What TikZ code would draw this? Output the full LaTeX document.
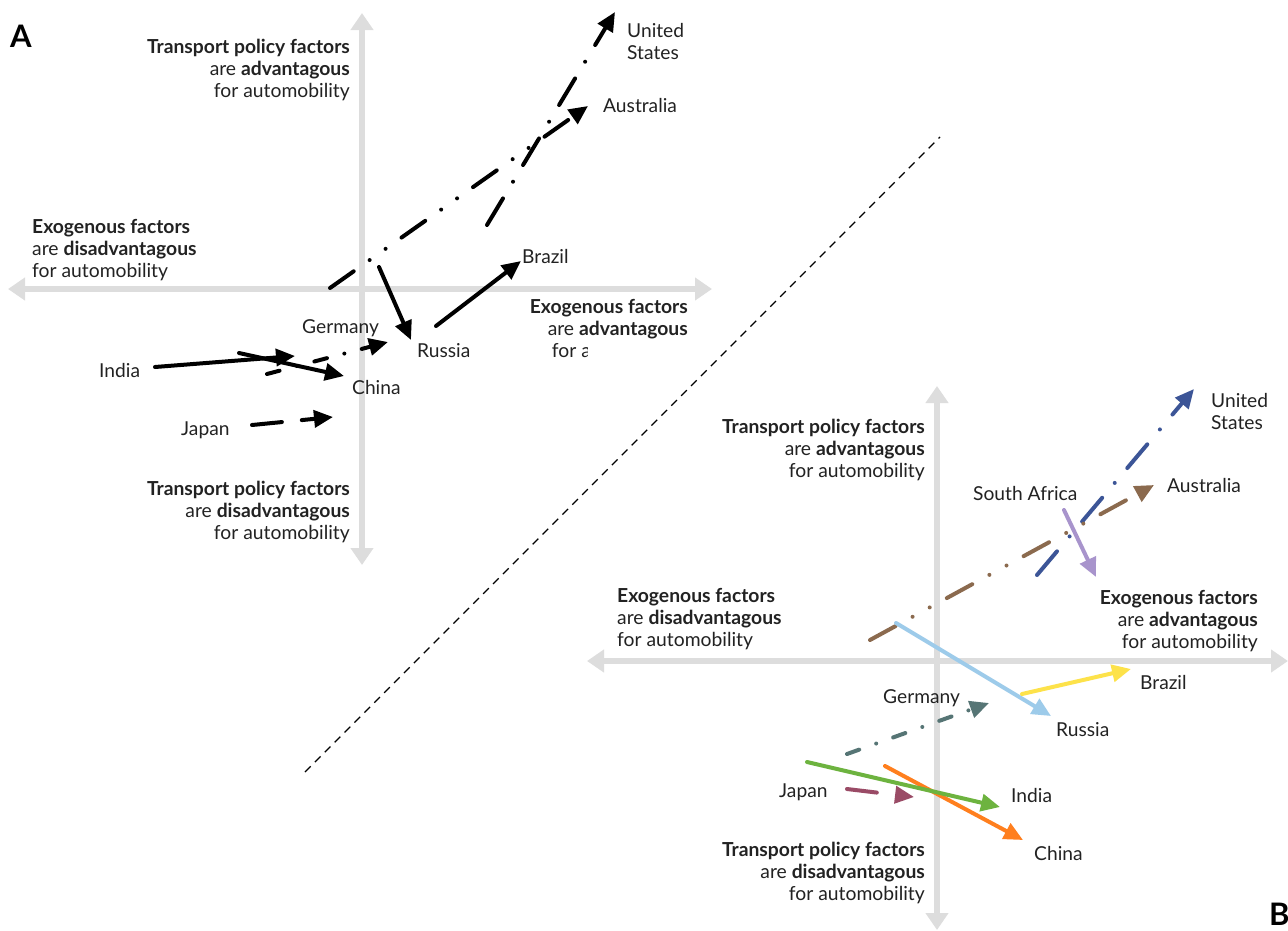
\documentclass[tikz,border=0pt]{standalone}
\usepackage{fontspec}
\setmainfont{Lato}
\usetikzlibrary{arrows.meta, positioning}
\definecolor{axisgray}{HTML}{DDDDDD}
\definecolor{txt}{HTML}{222222}
\definecolor{cus}{HTML}{3C5597}
\definecolor{caus}{HTML}{8B6A4E}
\definecolor{csaf}{HTML}{A894CC}
\definecolor{crus}{HTML}{9DCBEA}
\definecolor{cbra}{HTML}{FDE24A}
\definecolor{cger}{HTML}{567575}
\definecolor{cind}{HTML}{6DB33F}
\definecolor{cchn}{HTML}{FF7F1E}
\definecolor{cjpn}{HTML}{9A4B66}

\begin{document}
\begin{tikzpicture}[x=1pt,y=-1pt,
    axis/.style={draw=axisgray,line width=6pt,{Triangle[length=17pt,width=22pt]}-{Triangle[length=17pt,width=22pt]}},
    country/.style={anchor=west,inner sep=0pt,align=left,text=txt,font=\fontsize{19.2}{22}\selectfont},
    axlabel/.style={inner sep=0pt,text=txt,font=\fontsize{19.3}{22}\selectfont},
    panel/.style={anchor=west,inner sep=0pt,font=\fontsize{31}{31}\selectfont\bfseries},
    trend/.style={line width=4pt,line cap=round,-{Triangle[length=19pt,width=17pt]}},
    dashdot/.style={dash pattern=on 31pt off 19.5pt on 0pt off 19.5pt},
    dashdotdot/.style={dash pattern=on 29pt off 19.5pt on 0pt off 19.5pt on 0pt off 19.5pt},
    shortdashdot/.style={dash pattern=on 13pt off 18pt on 0pt off 18pt},
    longdash/.style={dash pattern=on 30pt off 20pt}]
  \useasboundingbox (0,0) rectangle (1288,930);

  % panel A
  \draw[axis] (362,565) -- (362,13);
  \draw[axis] (8,289) -- (712,289);
  \node[panel] (a_lbl) at (10,36) {A};
  \node[axlabel,anchor=east,align=right] (a_n) at (350,70)
    {\textbf{Transport policy factors}\\are \textbf{advantagous}\\for automobility};
  \node[axlabel,anchor=west,align=left] (a_w) at (32,250)
    {\textbf{Exogenous factors}\\are \textbf{disadvantagous}\\for automobility};
  \node[axlabel,anchor=east,align=right] (a_e) at (688,330)
    {\textbf{Exogenous factors}\\are \textbf{advantagous}\\for automobility};
  \node[axlabel,anchor=east,align=right] (a_s) at (350,512)
    {\textbf{Transport policy factors}\\are \textbf{disadvantagous}\\for automobility};

  \coordinate (a_us_s) at (487,225);  \coordinate (a_us_e) at (615,12);
  \coordinate (a_aus_s) at (330,288); \coordinate (a_aus_e) at (588,106);
  \coordinate (a_rus_s) at (379,267); \coordinate (a_rus_e) at (411,340);
  \coordinate (a_bra_s) at (436,326); \coordinate (a_bra_e) at (521,261);
  \coordinate (a_ger_s) at (267,374); \coordinate (a_ger_e) at (388,342);
  \coordinate (a_ind_s) at (155,367); \coordinate (a_ind_e) at (295,356);
  \coordinate (a_chn_s) at (239,353); \coordinate (a_chn_e) at (344,376);
  \coordinate (a_jpn_s) at (252,425); \coordinate (a_jpn_e) at (333,417);

  \draw[trend,dashdot] (a_us_s) -- (a_us_e);
  \draw[trend,dashdotdot] (a_aus_s) -- (a_aus_e);
  \draw[trend] (a_rus_s) -- (a_rus_e);
  \draw[trend] (a_bra_s) -- (a_bra_e);
  \draw[trend,shortdashdot] (a_ger_s) -- (a_ger_e);
  \draw[trend] (a_ind_s) -- (a_ind_e);
  \draw[trend] (a_chn_s) -- (a_chn_e);
  \draw[trend,longdash] (a_jpn_s) -- (a_jpn_e);

  \node[country] (a_us) at (627,42) {United\\States};
  \node[country] (a_aus) [right=15pt of a_aus_e] {Australia};
  \node[country] (a_bra) at (522,256) {Brazil};
  \node[country] (a_rus) at (417,351) {Russia};
  \node[country] (a_ger) at (302,328) {Germany};
  \node[country] (a_chn) at (352,387) {China};
  \node[country] (a_ind) at (99,370) {India};
  \node[country] (a_jpn) at (181,430) {Japan};

  % panel B
  \fill[white] (588,341) rectangle (1288,930);
  \draw[axis] (937,930) -- (937,386);
  \draw[axis] (587,661) -- (1288,661);
  \node[panel] (b_lbl) at (1269,914) {B};
  \node[axlabel,anchor=east,align=right] (b_n) at (925,450)
    {\textbf{Transport policy factors}\\are \textbf{advantagous}\\for automobility};
  \node[axlabel,anchor=west,align=left] (b_w) at (617,619)
    {\textbf{Exogenous factors}\\are \textbf{disadvantagous}\\for automobility};
  \node[axlabel,anchor=east,align=right] (b_e) at (1258,621)
    {\textbf{Exogenous factors}\\are \textbf{advantagous}\\for automobility};
  \node[axlabel,anchor=east,align=right] (b_s) at (925,873)
    {\textbf{Transport policy factors}\\are \textbf{disadvantagous}\\for automobility};

  \coordinate (b_us_s) at (1037,575);  \coordinate (b_us_e) at (1194,389);
  \coordinate (b_aus_s) at (870,640);  \coordinate (b_aus_e) at (1154,485);
  \coordinate (b_saf_s) at (1064,510); \coordinate (b_saf_e) at (1096,577);
  \coordinate (b_rus_s) at (896,623);  \coordinate (b_rus_e) at (1051,716);
  \coordinate (b_bra_s) at (1022,694); \coordinate (b_bra_e) at (1131,669);
  \coordinate (b_ger_s) at (847,754);  \coordinate (b_ger_e) at (989,703);
  \coordinate (b_ind_s) at (807,762);  \coordinate (b_ind_e) at (1000,807);
  \coordinate (b_chn_s) at (885,766);  \coordinate (b_chn_e) at (1023,840);
  \coordinate (b_jpn_s) at (847,789);  \coordinate (b_jpn_e) at (914,797);

  \draw[trend,dashdot,cus] (b_us_s) -- (b_us_e);
  \draw[trend,dashdotdot,caus] (b_aus_s) -- (b_aus_e);
  \draw[trend,csaf] (b_saf_s) -- (b_saf_e);
  \draw[trend,crus] (b_rus_s) -- (b_rus_e);
  \draw[trend,cbra] (b_bra_s) -- (b_bra_e);
  \draw[trend,shortdashdot,cger] (b_ger_s) -- (b_ger_e);
  \draw[trend,cchn] (b_chn_s) -- (b_chn_e);
  \draw[trend,cind] (b_ind_s) -- (b_ind_e);
  \draw[trend,longdash,cjpn] (b_jpn_s) -- (b_jpn_e);

  \node[country] (b_us) at (1211,411) {United\\States};
  \node[country] (b_aus) [right=13pt of b_aus_e] {Australia};
  \node[country] (b_saf) at (973,493) {South Africa};
  \node[country] (b_bra) at (1140,682) {Brazil};
  \node[country] (b_rus) at (1056,730) {Russia};
  \node[country] (b_ger) at (883,698) {Germany};
  \node[country] (b_ind) at (1011,795) {India};
  \node[country] (b_chn) at (1034,853) {China};
  \node[country] (b_jpn) at (779,792) {Japan};

  % divider
  \coordinate (div_lo) at (305,772);
  \coordinate (div_hi) at (940,137);
  \draw[line width=1.3pt,dash pattern=on 8pt off 6pt] (div_lo) -- (div_hi);
\end{tikzpicture}
\end{document}
